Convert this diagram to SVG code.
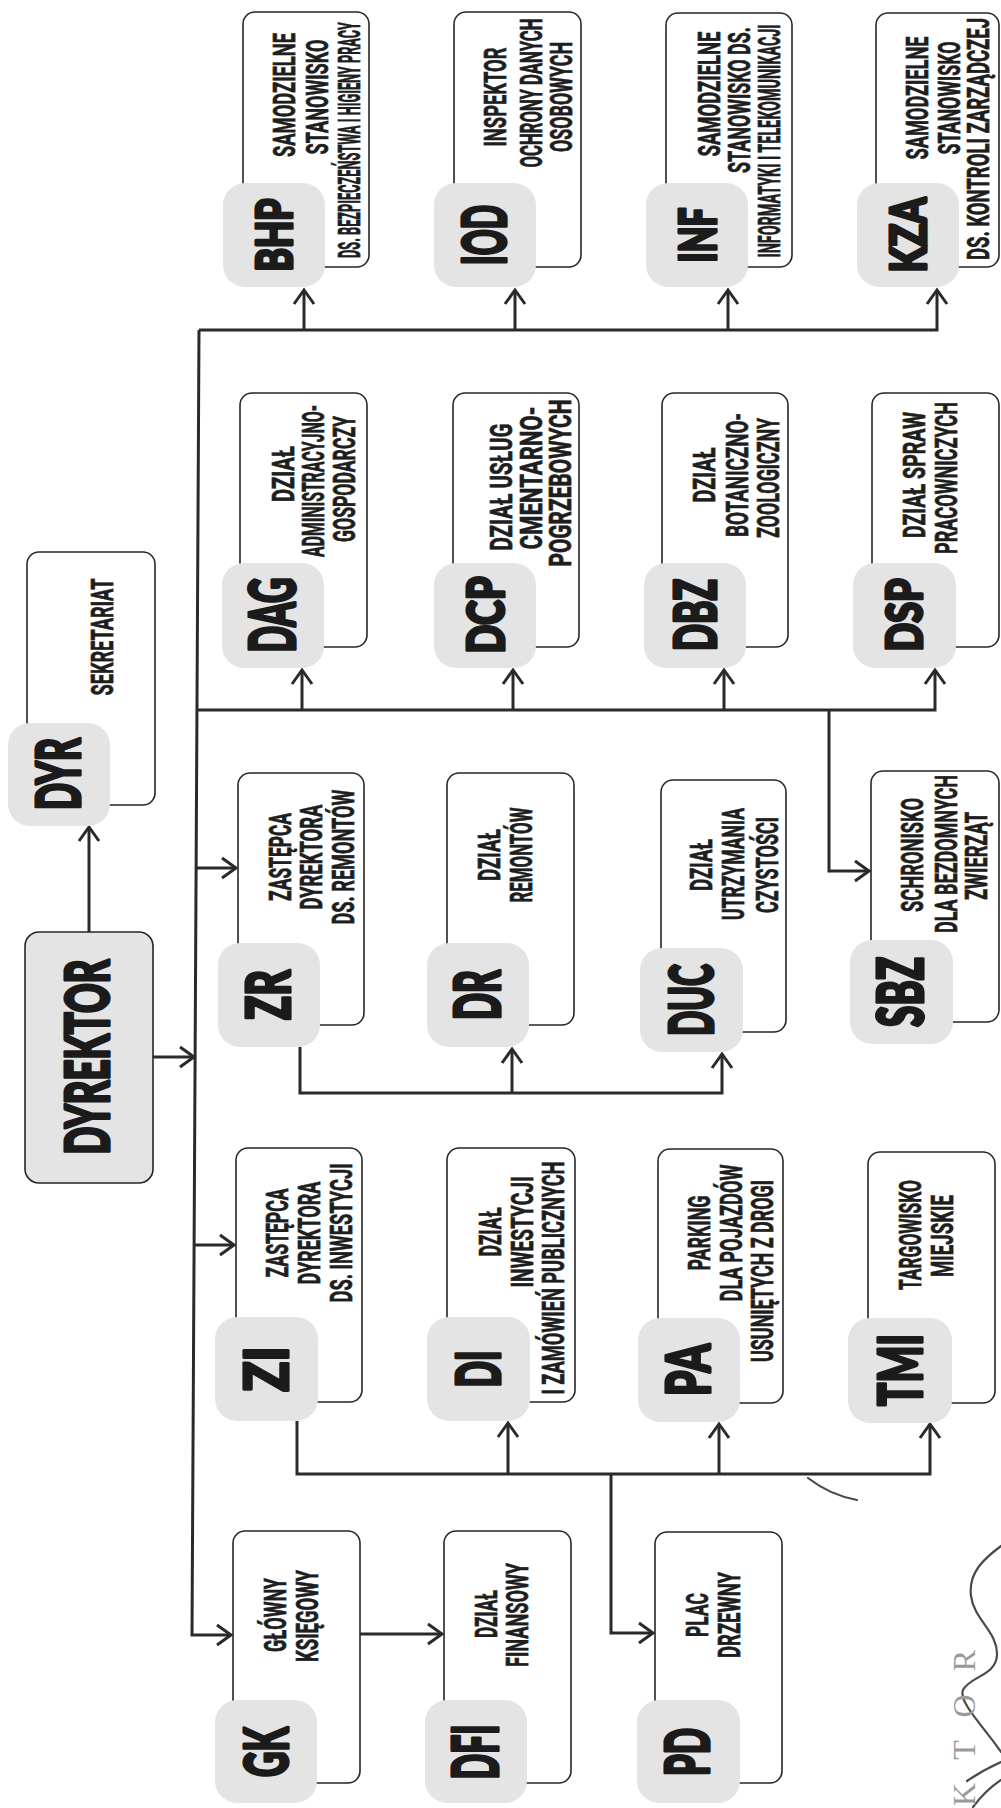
<svg xmlns="http://www.w3.org/2000/svg" width="1001" height="1808" viewBox="0 0 1001 1808">
<style>
.ol{fill:none;stroke:#262626;stroke-width:1.6}
.lb{fill:#e4e4e4}
.lt{font-family:Lato,Roboto,"Liberation Sans",sans-serif;font-weight:900;fill:#1b1b1b;stroke:#1b1b1b;stroke-width:3.2;stroke-linejoin:round;text-anchor:middle}
.tx{font-family:Roboto,"Liberation Sans",sans-serif;font-weight:700;font-size:31px;fill:#1e1e1e;stroke:#1e1e1e;stroke-width:0.7;text-anchor:middle}
.cn{fill:none;stroke:#2a2a2a;stroke-width:3;stroke-linejoin:miter}
.ar{marker-end:url(#ah)}
.pen{fill:none;stroke:#4a4a4a;stroke-width:2.2;stroke-linecap:round}
</style>
<defs>
<marker id="ah" viewBox="0 0 16 22" refX="15" refY="11" markerWidth="16" markerHeight="22" markerUnits="userSpaceOnUse" orient="auto" overflow="visible">
<path d="M1,1 L15,11 L1,21" fill="none" stroke="#2a2a2a" stroke-width="3"/>
</marker>
</defs>
<rect width="1001" height="1808" fill="#ffffff"/>

<g id="connectors">
<path class="cn ar" d="M89,932 V827"/>
<path class="cn ar" d="M153,1057 H194"/>
<path class="cn ar" d="M199,330 H937 V290"/>
<path class="cn ar" d="M199,330 L192,1635 H231"/>
<path class="cn ar" d="M304,330 V290"/>
<path class="cn ar" d="M515,330 V290"/>
<path class="cn ar" d="M728,330 V290"/>
<path class="cn ar" d="M198,710 H935 V670"/>
<path class="cn ar" d="M302,710 V670"/>
<path class="cn ar" d="M513,710 V670"/>
<path class="cn ar" d="M724,710 V670"/>
<path class="cn ar" d="M829,710 V871 H869"/>
<path class="cn ar" d="M196,868 H236"/>
<path class="cn ar" d="M300,1047 V1093 H722 V1054"/>
<path class="cn ar" d="M512,1093 V1049"/>
<path class="cn ar" d="M194,1245 H234"/>
<path class="cn ar" d="M297,1421 V1474 H930 V1424"/>
<path class="cn ar" d="M508,1474 V1423"/>
<path class="cn ar" d="M719,1474 V1424"/>
<path class="cn ar" d="M611,1474 V1633 H653"/>
<path class="cn ar" d="M360,1634 H442"/>
</g>

<g id="DYREKTOR">
<rect x="25" y="932" width="128" height="251" rx="14" fill="#e4e4e4" stroke="#262626" stroke-width="1.6"/>
<text class="lt" transform="translate(88 1057) rotate(-90)" y="21" style="font-size:60px" textLength="195" lengthAdjust="spacingAndGlyphs">DYREKTOR</text>
</g>

<g id="DYR">
<rect class="ol" x="27" y="552" width="128" height="253" rx="12"/>
<rect class="lb" x="8" y="723" width="102" height="103" rx="22"/>
<text class="lt" transform="translate(59 774) rotate(-90)" y="21" style="font-size:60px" textLength="72" lengthAdjust="spacingAndGlyphs">DYR</text>
<text class="tx" transform="translate(102 637) rotate(-90)" y="11" textLength="117" lengthAdjust="spacingAndGlyphs">SEKRETARIAT</text>
</g>

<g id="BHP">
<rect class="ol" x="243" y="12" width="126" height="255" rx="12"/>
<rect class="lb" x="223" y="183" width="102" height="104" rx="22"/>
<text class="lt" transform="translate(274 235) rotate(-90)" y="18" style="font-size:50px" textLength="73" lengthAdjust="spacingAndGlyphs">BHP</text>
<text class="tx" transform="translate(284 95) rotate(-90)" y="11" textLength="124" lengthAdjust="spacingAndGlyphs">SAMODZIELNE</text>
<text class="tx" transform="translate(317 97) rotate(-90)" y="11" textLength="115" lengthAdjust="spacingAndGlyphs">STANOWISKO</text>
<text class="tx" transform="translate(349 140) rotate(-90)" y="11" textLength="236" lengthAdjust="spacingAndGlyphs">DS. BEZPIECZEŃSTWA I HIGIENY PRACY</text>
</g>

<g id="IOD">
<rect class="ol" x="454" y="12" width="127" height="255" rx="12"/>
<rect class="lb" x="434" y="183" width="102" height="104" rx="22"/>
<text class="lt" transform="translate(485 235) rotate(-90)" y="21" style="font-size:60px" textLength="60" lengthAdjust="spacingAndGlyphs">IOD</text>
<text class="tx" transform="translate(495 97) rotate(-90)" y="11" textLength="99" lengthAdjust="spacingAndGlyphs">INSPEKTOR</text>
<text class="tx" transform="translate(531 93) rotate(-90)" y="11" textLength="149" lengthAdjust="spacingAndGlyphs">OCHRONY DANYCH</text>
<text class="tx" transform="translate(561 97) rotate(-90)" y="11" textLength="110" lengthAdjust="spacingAndGlyphs">OSOBOWYCH</text>
</g>

<g id="INF">
<rect class="ol" x="666" y="13" width="126" height="254" rx="12"/>
<rect class="lb" x="646" y="183" width="102" height="104" rx="22"/>
<text class="lt" transform="translate(697 235) rotate(-90)" y="19" style="font-size:52px" textLength="55" lengthAdjust="spacingAndGlyphs">INF</text>
<text class="tx" transform="translate(709 94) rotate(-90)" y="11" textLength="125" lengthAdjust="spacingAndGlyphs">SAMODZIELNE</text>
<text class="tx" transform="translate(739 100) rotate(-90)" y="11" textLength="146" lengthAdjust="spacingAndGlyphs">STANOWISKO DS.</text>
<text class="tx" transform="translate(769 141) rotate(-90)" y="11" textLength="233" lengthAdjust="spacingAndGlyphs">INFORMATYKI I TELEKOMUNIKACJI</text>
</g>

<g id="KZA">
<rect class="ol" x="876" y="13" width="123" height="254" rx="12"/>
<rect class="lb" x="857" y="183" width="102" height="104" rx="22"/>
<text class="lt" transform="translate(908 235) rotate(-90)" y="18" style="font-size:50px" textLength="75" lengthAdjust="spacingAndGlyphs">KZA</text>
<text class="tx" transform="translate(917 98) rotate(-90)" y="11" textLength="123" lengthAdjust="spacingAndGlyphs">SAMODZIELNE</text>
<text class="tx" transform="translate(949 98) rotate(-90)" y="11" textLength="113" lengthAdjust="spacingAndGlyphs">STANOWISKO</text>
<text class="tx" transform="translate(978 139) rotate(-90)" y="11" textLength="242" lengthAdjust="spacingAndGlyphs">DS. KONTROLI ZARZĄDCZEJ</text>
</g>

<g id="DAG">
<rect class="ol" x="240" y="393" width="127" height="254" rx="12"/>
<rect class="lb" x="222" y="563" width="102" height="105" rx="22"/>
<text class="lt" transform="translate(273 615) rotate(-90)" y="22" style="font-size:62px" textLength="75" lengthAdjust="spacingAndGlyphs">DAG</text>
<text class="tx" transform="translate(283 474) rotate(-90)" y="11" textLength="56" lengthAdjust="spacingAndGlyphs">DZIAŁ</text>
<text class="tx" transform="translate(313 481) rotate(-90)" y="11" textLength="152" lengthAdjust="spacingAndGlyphs">ADMINISTRACYJNO-</text>
<text class="tx" transform="translate(344 479) rotate(-90)" y="11" textLength="126" lengthAdjust="spacingAndGlyphs">GOSPODARCZY</text>
</g>

<g id="DCP">
<rect class="ol" x="453" y="393" width="126" height="254" rx="12"/>
<rect class="lb" x="434" y="563" width="102" height="105" rx="22"/>
<text class="lt" transform="translate(485 615) rotate(-90)" y="19" style="font-size:52px" textLength="77" lengthAdjust="spacingAndGlyphs">DCP</text>
<text class="tx" transform="translate(501 487) rotate(-90)" y="11" textLength="127" lengthAdjust="spacingAndGlyphs">DZIAŁ USŁUG</text>
<text class="tx" transform="translate(531 478) rotate(-90)" y="11" textLength="143" lengthAdjust="spacingAndGlyphs">CMENTARNO-</text>
<text class="tx" transform="translate(560 483) rotate(-90)" y="11" textLength="167" lengthAdjust="spacingAndGlyphs">POGRZEBOWYCH</text>
</g>

<g id="DBZ">
<rect class="ol" x="662" y="393" width="126" height="254" rx="12"/>
<rect class="lb" x="644" y="563" width="102" height="105" rx="22"/>
<text class="lt" transform="translate(695 615) rotate(-90)" y="21" style="font-size:58px" textLength="72" lengthAdjust="spacingAndGlyphs">DBZ</text>
<text class="tx" transform="translate(704 475) rotate(-90)" y="11" textLength="55" lengthAdjust="spacingAndGlyphs">DZIAŁ</text>
<text class="tx" transform="translate(737 475) rotate(-90)" y="11" textLength="124" lengthAdjust="spacingAndGlyphs">BOTANICZNO-</text>
<text class="tx" transform="translate(768 478) rotate(-90)" y="11" textLength="120" lengthAdjust="spacingAndGlyphs">ZOOLOGICZNY</text>
</g>

<g id="DSP">
<rect class="ol" x="872" y="393" width="127" height="254" rx="12"/>
<rect class="lb" x="853" y="563" width="103" height="105" rx="22"/>
<text class="lt" transform="translate(904 615) rotate(-90)" y="18" style="font-size:50px" textLength="73" lengthAdjust="spacingAndGlyphs">DSP</text>
<text class="tx" transform="translate(914 475) rotate(-90)" y="11" textLength="126" lengthAdjust="spacingAndGlyphs">DZIAŁ SPRAW</text>
<text class="tx" transform="translate(946 478) rotate(-90)" y="11" textLength="152" lengthAdjust="spacingAndGlyphs">PRACOWNICZYCH</text>
</g>

<g id="ZR">
<rect class="ol" x="238" y="773" width="126" height="252" rx="12"/>
<rect class="lb" x="218" y="943" width="102" height="104" rx="22"/>
<text class="lt" transform="translate(269 995) rotate(-90)" y="21" style="font-size:60px" textLength="50" lengthAdjust="spacingAndGlyphs">ZR</text>
<text class="tx" transform="translate(280 857) rotate(-90)" y="11" textLength="88" lengthAdjust="spacingAndGlyphs">ZASTĘPCA</text>
<text class="tx" transform="translate(311 857) rotate(-90)" y="11" textLength="105" lengthAdjust="spacingAndGlyphs">DYREKTORA</text>
<text class="tx" transform="translate(343 857) rotate(-90)" y="11" textLength="135" lengthAdjust="spacingAndGlyphs">DS. REMONTÓW</text>
</g>

<g id="DR">
<rect class="ol" x="447" y="773" width="127" height="252" rx="12"/>
<rect class="lb" x="427" y="943" width="102" height="104" rx="22"/>
<text class="lt" transform="translate(478 995) rotate(-90)" y="22" style="font-size:62px" textLength="50" lengthAdjust="spacingAndGlyphs">DR</text>
<text class="tx" transform="translate(489 855) rotate(-90)" y="11" textLength="52" lengthAdjust="spacingAndGlyphs">DZIAŁ</text>
<text class="tx" transform="translate(521 855) rotate(-90)" y="11" textLength="95" lengthAdjust="spacingAndGlyphs">REMONTÓW</text>
</g>

<g id="DUC">
<rect class="ol" x="661" y="780" width="125" height="252" rx="12"/>
<rect class="lb" x="640" y="948" width="103" height="104" rx="22"/>
<text class="lt" transform="translate(691 1000) rotate(-90)" y="22" style="font-size:61px" textLength="72" lengthAdjust="spacingAndGlyphs">DUC</text>
<text class="tx" transform="translate(701 865) rotate(-90)" y="11" textLength="52" lengthAdjust="spacingAndGlyphs">DZIAŁ</text>
<text class="tx" transform="translate(733 864) rotate(-90)" y="11" textLength="112" lengthAdjust="spacingAndGlyphs">UTRZYMANIA</text>
<text class="tx" transform="translate(767 865) rotate(-90)" y="11" textLength="96" lengthAdjust="spacingAndGlyphs">CZYSTOŚCI</text>
</g>

<g id="SBZ">
<rect class="ol" x="871" y="771" width="128" height="251" rx="12"/>
<rect class="lb" x="850" y="940" width="103" height="104" rx="22"/>
<text class="lt" transform="translate(901 992) rotate(-90)" y="22" style="font-size:62px" textLength="70" lengthAdjust="spacingAndGlyphs">SBZ</text>
<text class="tx" transform="translate(912 855) rotate(-90)" y="11" textLength="114" lengthAdjust="spacingAndGlyphs">SCHRONISKO</text>
<text class="tx" transform="translate(946 854) rotate(-90)" y="11" textLength="158" lengthAdjust="spacingAndGlyphs">DLA BEZDOMNYCH</text>
<text class="tx" transform="translate(976 856) rotate(-90)" y="11" textLength="88" lengthAdjust="spacingAndGlyphs">ZWIERZĄT</text>
</g>

<g id="ZI">
<rect class="ol" x="236" y="1148" width="126" height="254" rx="12"/>
<rect class="lb" x="215" y="1317" width="103" height="104" rx="22"/>
<text class="lt" transform="translate(266 1369) rotate(-90)" y="22" style="font-size:61px" textLength="45" lengthAdjust="spacingAndGlyphs">ZI</text>
<text class="tx" transform="translate(277 1233) rotate(-90)" y="11" textLength="89" lengthAdjust="spacingAndGlyphs">ZASTĘPCA</text>
<text class="tx" transform="translate(309 1233) rotate(-90)" y="11" textLength="103" lengthAdjust="spacingAndGlyphs">DYREKTORA</text>
<text class="tx" transform="translate(341 1233) rotate(-90)" y="11" textLength="139" lengthAdjust="spacingAndGlyphs">DS. INWESTYCJI</text>
</g>

<g id="DI">
<rect class="ol" x="447" y="1148" width="128" height="254" rx="12"/>
<rect class="lb" x="427" y="1317" width="103" height="104" rx="22"/>
<text class="lt" transform="translate(478 1369) rotate(-90)" y="22" style="font-size:61px" textLength="37" lengthAdjust="spacingAndGlyphs">DI</text>
<text class="tx" transform="translate(490 1232) rotate(-90)" y="11" textLength="49" lengthAdjust="spacingAndGlyphs">DZIAŁ</text>
<text class="tx" transform="translate(522 1232) rotate(-90)" y="11" textLength="111" lengthAdjust="spacingAndGlyphs">INWESTYCJI</text>
<text class="tx" transform="translate(553 1278) rotate(-90)" y="11" textLength="233" lengthAdjust="spacingAndGlyphs">I ZAMÓWIEŃ PUBLICZNYCH</text>
</g>

<g id="PA">
<rect class="ol" x="658" y="1149" width="125" height="254" rx="12"/>
<rect class="lb" x="638" y="1318" width="102" height="104" rx="22"/>
<text class="lt" transform="translate(689 1370) rotate(-90)" y="21" style="font-size:60px" textLength="52" lengthAdjust="spacingAndGlyphs">PA</text>
<text class="tx" transform="translate(699 1233) rotate(-90)" y="11" textLength="75" lengthAdjust="spacingAndGlyphs">PARKING</text>
<text class="tx" transform="translate(731 1233) rotate(-90)" y="11" textLength="137" lengthAdjust="spacingAndGlyphs">DLA POJAZDÓW</text>
<text class="tx" transform="translate(762 1271) rotate(-90)" y="11" textLength="182" lengthAdjust="spacingAndGlyphs">USUNIĘTYCH Z DROGI</text>
</g>

<g id="TMI">
<rect class="ol" x="868" y="1152" width="127" height="251" rx="12"/>
<rect class="lb" x="848" y="1318" width="104" height="105" rx="22"/>
<text class="lt" transform="translate(900 1370) rotate(-90)" y="22" style="font-size:61px" textLength="72" lengthAdjust="spacingAndGlyphs">TMI</text>
<text class="tx" transform="translate(910 1235) rotate(-90)" y="11" textLength="110" lengthAdjust="spacingAndGlyphs">TARGOWISKO</text>
<text class="tx" transform="translate(942 1236) rotate(-90)" y="11" textLength="82" lengthAdjust="spacingAndGlyphs">MIEJSKIE</text>
</g>

<g id="GK">
<rect class="ol" x="233" y="1531" width="127" height="252" rx="12"/>
<rect class="lb" x="215" y="1700" width="102" height="103" rx="22"/>
<text class="lt" transform="translate(266 1752) rotate(-90)" y="22" style="font-size:61px" textLength="50" lengthAdjust="spacingAndGlyphs">GK</text>
<text class="tx" transform="translate(275 1615) rotate(-90)" y="11" textLength="74" lengthAdjust="spacingAndGlyphs">GŁÓWNY</text>
<text class="tx" transform="translate(307 1616) rotate(-90)" y="11" textLength="92" lengthAdjust="spacingAndGlyphs">KSIĘGOWY</text>
</g>

<g id="DFI">
<rect class="ol" x="444" y="1531" width="127" height="252" rx="12"/>
<rect class="lb" x="425" y="1700" width="102" height="103" rx="22"/>
<text class="lt" transform="translate(476 1752) rotate(-90)" y="22" style="font-size:62px" textLength="55" lengthAdjust="spacingAndGlyphs">DFI</text>
<text class="tx" transform="translate(486 1614) rotate(-90)" y="11" textLength="48" lengthAdjust="spacingAndGlyphs">DZIAŁ</text>
<text class="tx" transform="translate(517 1615) rotate(-90)" y="11" textLength="104" lengthAdjust="spacingAndGlyphs">FINANSOWY</text>
</g>

<g id="PD">
<rect class="ol" x="655" y="1532" width="127" height="251" rx="12"/>
<rect class="lb" x="637" y="1700" width="103" height="103" rx="22"/>
<text class="lt" transform="translate(688 1752) rotate(-90)" y="21" style="font-size:60px" textLength="48" lengthAdjust="spacingAndGlyphs">PD</text>
<text class="tx" transform="translate(697 1615) rotate(-90)" y="11" textLength="44" lengthAdjust="spacingAndGlyphs">PLAC</text>
<text class="tx" transform="translate(729 1615) rotate(-90)" y="11" textLength="86" lengthAdjust="spacingAndGlyphs">DRZEWNY</text>
</g>

<g id="stamp">
<path class="pen" d="M808,1478 Q830,1495 857,1500"/>
<path class="pen" d="M1001,1546 C985,1558 968,1572 971,1596 C974,1620 998,1632 997,1655 C996,1676 970,1676 963,1690 C958,1702 985,1728 1001,1752"/>
<path class="pen" d="M973,1807 C982,1795 992,1786 1001,1780"/>
<path class="pen" d="M967,1781 C980,1772 992,1766 1001,1762"/>
<text transform="translate(975 1806) rotate(-90)" x="0" y="0" textLength="156" lengthAdjust="spacing" style="font-family:'Liberation Serif',serif;font-size:32px;fill:#9a9a9a">KTOR</text>
</g>
</svg>
